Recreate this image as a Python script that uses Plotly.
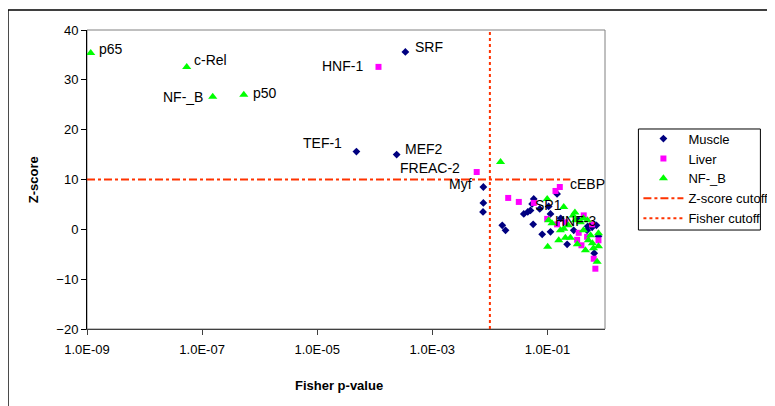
import numpy as np
import plotly.graph_objects as go

# ---------------- data ----------------
muscle_p = [3.4e-4, 4.8e-5, 2.4e-4, 7.7e-3, 7.7e-3, 7.6e-3, 0.0164, 0.0187, 0.0388, 0.0455,
            0.0507, 0.0542, 0.0578, 0.0735, 0.0565, 0.081, 0.113, 0.113, 0.147, 0.286,
            0.22, 0.489, 0.597, 0.105, 0.77, 0.71, 0.17, 0.35, 0.65, 0.50]
muscle_z = [35.6, 15.6, 15.0, 8.5, 5.3, 3.5, 0.8, -0.2, 3.1, 3.5,
            3.8, 5.1, 6.1, 4.1, 1.0, -1.0, 3.1, -0.5, 7.1, -0.2,
            -3.0, -0.2, 0.4, 4.6, -1.4, 0.8, 2.2, 1.8, -4.8, 0.6]

liver_p = [1.16e-4, 5.9e-3, 0.0208, 0.0318, 0.138, 0.164, 0.058, 0.147, 0.349, 0.328,
           0.597, 0.427, 0.489, 0.637, 0.68, 0.099, 0.205, 0.77, 0.39]
liver_z = [32.6, 11.5, 6.3, 5.5, 7.7, 8.5, 5.3, 1.0, -0.7, -2.1,
           1.0, 2.8, -1.5, -5.9, -7.9, 2.1, 1.4, -2.2, -3.2]

nfkb_p = [1.16e-9, 5.4e-8, 1.53e-7, 5.3e-7, 0.0153, 0.099, 0.192, 0.105, 0.192, 0.157,
          0.205, 0.251, 0.101, 0.279, 0.306, 0.374, 0.495, 0.423, 0.514, 0.604,
          0.63, 0.457, 0.77, 0.73, 0.23, 0.12, 0.168, 0.56, 0.77, 0.33, 0.30, 0.42]
nfkb_z = [35.4, 32.6, 26.6, 27.0, 13.5, 6.1, 4.5, 1.8, 0.1, -2.2,
          -1.7, -1.7, -3.5, 2.8, 1.8, 1.4, 1.8, -0.2, -2.2, -2.8,
          -3.8, -4.2, -3.4, -6.5, 0.8, 1.2, -0.2, -1.2, -0.8, -3.0, 3.4, 2.2]

# labels: (text, series, index, xanchor, xshift, yshift)
labels = [
    ("p65", "nfkb", 0, "left", 6, 4),
    ("c-Rel", "nfkb", 1, "left", 5, 7),
    ("NF-_B", "nfkb", 2, "right", -8, 0),
    ("p50", "nfkb", 3, "left", 7, 2),
    ("SRF", "muscle", 0, "left", 8, 5),
    ("HNF-1", "liver", 0, "right", -13, 1),
    ("TEF-1", "muscle", 1, "right", -12, 9),
    ("MEF2", "muscle", 2, "left", 6, 6),
    ("FREAC-2", "liver", 1, "right", -15, 4),
    ("Myf", "muscle", 3, "right", -9, 3),
    ("cEBP", "liver", 5, "left", 8, 3),
    ("SP1", "muscle", 9, "left", 5, 7),
    ("HNF-3", "liver", 15, "left", 6, -2),
]

z_cutoff = 10
z_cut_p = [1e-9, 0.25]
fisher_cutoff = 0.01
fisher_z = [-20, 40]

x_tickvals = [1e-9, 1e-7, 1e-5, 1e-3, 1e-1]
x_ticktext = ["1.0E-09", "1.0E-07", "1.0E-05", "1.0E-03", "1.0E-01"]

# ---------------- figure ----------------
FONT = "Liberation Sans, Arial, sans-serif"
RED = "#FF3300"

fig = go.Figure()
fig.add_trace(go.Scatter(x=muscle_p, y=muscle_z, mode="markers", name="Muscle",
                         marker=dict(symbol="diamond", size=6, color="#000080")))
fig.add_trace(go.Scatter(x=liver_p, y=liver_z, mode="markers", name="Liver",
                         marker=dict(symbol="square", size=6, color="#FF00FF")))
fig.add_trace(go.Scatter(x=nfkb_p, y=nfkb_z, mode="markers", name="NF-_B",
                         marker=dict(symbol="triangle-up", size=8, color="#00FF00")))
fig.add_trace(go.Scatter(x=z_cut_p, y=[z_cutoff, z_cutoff], mode="lines", name="Z-score cutoff",
                         line=dict(color=RED, width=2, dash="8px,3px,3px,3px")))
fig.add_trace(go.Scatter(x=[fisher_cutoff, fisher_cutoff], y=fisher_z, mode="lines",
                         name="Fisher cutoff",
                         line=dict(color=RED, width=2, dash="3px,3px")))

series = {"muscle": (muscle_p, muscle_z), "liver": (liver_p, liver_z), "nfkb": (nfkb_p, nfkb_z)}
for text, s, i, xa, xs, ys in labels:
    px, pz = series[s]
    fig.add_annotation(x=np.log10(px[i]), y=pz[i], text=text, showarrow=False,
                       xanchor=xa, yanchor="middle", xshift=xs, yshift=ys,
                       font=dict(family=FONT, size=14, color="black"))

# axis titles
fig.add_annotation(xref="paper", yref="paper", x=0.487, y=-0.19, text="<b>Fisher p-value</b>",
                   xanchor="center", yanchor="middle",
                   showarrow=False, font=dict(family=FONT, size=13, color="black"))
fig.add_annotation(xref="paper", yref="paper", x=-0.104, y=0.498, text="<b>Z-score</b>",
                   xanchor="center", yanchor="middle",
                   showarrow=False, textangle=-90, font=dict(family=FONT, size=13, color="black"))

# plot-area border (top/right gray), outer chart border, legend box
fig.add_shape(type="rect", xref="paper", yref="paper", x0=0, y0=0, x1=1, y1=1,
              line=dict(color="#808080", width=1), layer="below")
fig.add_shape(type="rect", xref="paper", yref="paper", x0=-0.1526, y0=-0.35, x1=1.40, y1=1.0669,
              line=dict(color="black", width=1.5), layer="below")
fig.add_shape(type="rect", xref="paper", yref="paper", x0=1.0645, y0=0.331, x1=1.30, y1=0.6689,
              line=dict(color="black", width=1), fillcolor="white", layer="above")

fig.update_xaxes(type="log", range=[-9, 0], tickvals=x_tickvals, ticktext=x_ticktext,
                 showgrid=False, zeroline=False, showline=True, linecolor="#404040", linewidth=1,
                 ticks="outside", ticklen=5, tickcolor="#404040", ticklabelstandoff=3,
                 tickfont=dict(family=FONT, size=13, color="black"))
fig.update_yaxes(range=[-20, 40], dtick=10, showgrid=False, zeroline=False, showline=True,
                 linecolor="black", linewidth=1, ticks="outside", ticklen=5, tickcolor="black",
                 tickfont=dict(family=FONT, size=13, color="black"))

fig.update_layout(
    width=775, height=406,
    margin=dict(l=79, r=178.4, t=22, b=85, autoexpand=False),
    paper_bgcolor="white", plot_bgcolor="white",
    font=dict(family=FONT, size=13, color="black"),
    showlegend=True,
    legend=dict(x=1.0645, y=0.687, xanchor="left", yanchor="top",
                bgcolor="rgba(0,0,0,0)", borderwidth=0,
                font=dict(family=FONT, size=13, color="black"), itemwidth=40),
)

fig.write_html("out.html")
